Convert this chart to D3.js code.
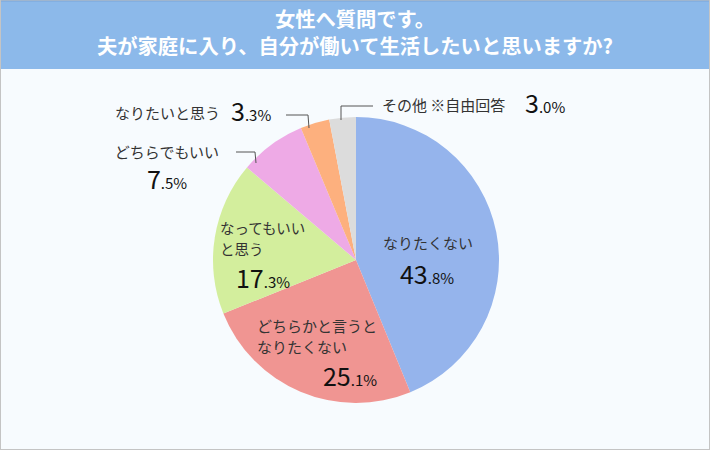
<!DOCTYPE html>
<html><head><meta charset="utf-8">
<script src="https://cdn.jsdelivr.net/npm/d3@7"></script>
<style>html,body{margin:0;padding:0;background:#fff}svg{display:block}text{font-family:"Noto Sans CJK JP","Noto Sans",sans-serif}</style>
</head><body>
<script>
const titleLines = ["女性へ質問です。", "夫が家庭に入り、自分が働いて生活したいと思いますか?"];
const categories = ["なりたくない", "どちらかと言うと\nなりたくない", "なってもいい\nと思う", "どちらでもいい", "なりたいと思う", "その他 ※自由回答"];
const values = [43.8, 25.1, 17.3, 7.5, 3.3, 3.0];
const colors = ["#95b4ec", "#f09592", "#d3ee9d", "#eeaae6", "#fdb07e", "#dcdcdc"];

const W = 710, H = 450;
const svg = d3.select("body").append("svg").attr("width", W).attr("height", H);
svg.append("rect").attr("x", 0.5).attr("y", 0.5).attr("width", W - 1).attr("height", H - 1)
  .attr("fill", "#f7fbfe").attr("stroke", "#c4c4c4");
svg.append("rect").attr("x", 1).attr("y", 1).attr("width", W - 2).attr("height", 68).attr("fill", "#8cb9ea");
svg.append("line").attr("x1", 1).attr("x2", W - 1).attr("y1", 1).attr("y2", 1).attr("stroke", "#7aa6d8");
titleLines.forEach((t, i) => {
  svg.append("text").attr("x", W / 2).attr("y", 27 + i * 27).attr("text-anchor", "middle")
    .attr("fill", "#fff").attr("font-size", 20.3).attr("font-weight", "bold").text(t);
});

const cx = 356, cy = 260, R = 143;
const pie = d3.pie().sort(null).value(d => d)(values);
const arc = d3.arc().innerRadius(0).outerRadius(R);
const g = svg.append("g").attr("transform", `translate(${cx},${cy})`);
g.selectAll("path").data(pie).join("path").attr("d", arc).attr("fill", (d, i) => colors[i]);

// labels
const lab = svg.append("g").attr("fill", "#333");
function txt(x, y, s, size, anchor, lh) {
  const t = lab.append("text").attr("x", x).attr("y", y).attr("font-size", size || 14)
    .attr("text-anchor", anchor || "start");
  s.split("\n").forEach((line, i) => {
    t.append("tspan").attr("x", x).attr("dy", i === 0 ? 0 : (lh || 18)).text(line);
  });
  return t;
}
function pct(x, y, v, anchor) {
  const s = v.toFixed(1).split(".");
  const t = lab.append("text").attr("x", x).attr("y", y).attr("text-anchor", anchor || "start").attr("fill", "#111");
  t.append("tspan").attr("font-size", 25).text(s[0]);
  t.append("tspan").attr("font-size", 15).text("." + s[1] + "%");
}
// 0
txt(428, 249, categories[0], 15, "middle");
pct(427, 284, values[0], "middle");
// 1
txt(257, 332, categories[1], 15, "start", 21);
pct(350, 386, values[1], "middle");
// 2
txt(220, 234, categories[2], 14.5, "start", 21);
pct(263, 288, values[2], "middle");
// 3
txt(167, 158, categories[3], 15, "middle");
pct(167, 189, values[3], "middle");
// 4
txt(220, 119, categories[4], 15, "end");
pct(231, 121, values[4]);
// 5
txt(382, 111, categories[5], 15);
pct(525, 113, values[5]);

// leader lines
const leaders = [
  [[236, 152], [255, 152], [256, 163]],
  [[286, 115], [308, 115], [309, 128]],
  [[373, 106], [341, 106], [341, 120]]
];
svg.selectAll("path.ld").data(leaders).join("path").attr("class", "ld")
  .attr("d", d => d3.line()(d)).attr("fill", "none").attr("stroke", "#555").attr("stroke-width", 1);
</script>
</body></html>
